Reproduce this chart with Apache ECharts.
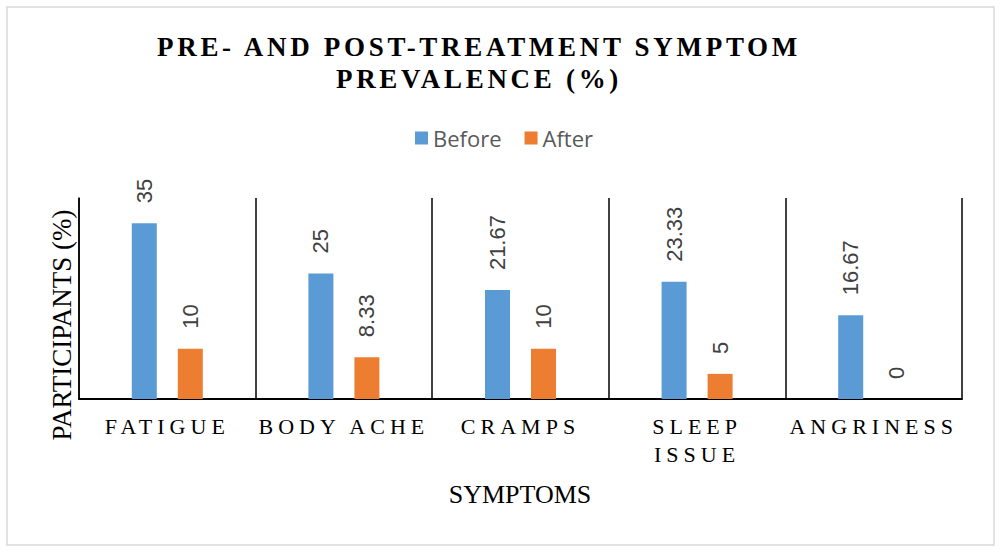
<!DOCTYPE html>
<html lang="en">

<head>
  <meta charset="UTF-8">
  <title>Pre- and Post-Treatment Symptom Prevalence</title>
  <style>
    body { margin: 0; background: #fff; }
    /* spaced caps for the title and the category labels */
    #main text[style*="bold"] { letter-spacing: 3.7px; }
    #main text[style*="DejaVu Serif"] { letter-spacing: 5px; }
  </style>
</head>

<body>
  <div id="main" style="width: 1002px;height:553px;"></div>
  <script src="https://cdn.jsdelivr.net/npm/echarts@6/dist/echarts.min.js"></script>
  <script>
    const categories = ['FATIGUE', 'BODY ACHE', 'CRAMPS', 'SLEEP ISSUE', 'ANGRINESS'];
    const beforeValues = [35, 25, 21.67, 23.33, 16.67];
    const afterValues = [10, 8.33, 10, 5, 0];
    const seriesNames = ['Before', 'After'];
    const colors = ['#5B9BD5', '#ED7D31'];

    const myChart = echarts.init(document.getElementById('main'), null, { renderer: 'svg' });

    const barLabel = {
      show: true,
      position: 'top',
      rotate: 90,
      align: 'left',
      verticalAlign: 'middle',
      distance: 20,
      fontFamily: 'Liberation Sans',
      fontSize: 22,
      color: '#404040'
    };

    const option = {
      backgroundColor: '#fff',
      title: {
        text: 'PRE- AND POST-TREATMENT SYMPTOM\nPREVALENCE (%)',
        left: 474,
        top: 26,
        textAlign: 'center',
        textStyle: {
          fontFamily: 'Liberation Serif',
          fontWeight: 'bold',
          fontSize: 27,
          lineHeight: 32,
          color: '#000'
        }
      },
      legend: {
        data: seriesNames,
        left: 410,
        top: 122,
        icon: 'rect',
        itemWidth: 13,
        itemHeight: 13,
        itemGap: 23,
        textStyle: {
          fontFamily: 'Open Sans',
          fontSize: 22,
          color: '#595959'
        }
      },
      grid: {
        left: 79,
        right: 40,
        top: 198,
        bottom: 154
      },
      xAxis: {
        type: 'category',
        data: categories,
        axisTick: { show: false },
        axisLine: { lineStyle: { color: '#000', width: 2 } },
        splitLine: { show: true, lineStyle: { color: '#000', width: 1.5 } },
        axisLabel: {
          margin: 13,
          interval: 0,
          fontFamily: '"Liberation Serif", "DejaVu Serif"',
          fontSize: 22,
          lineHeight: 28,
          color: '#000',
          formatter: (v) => v.replace('SLEEP ', 'SLEEP\n')
        }
      },
      yAxis: {
        type: 'value',
        min: 0,
        max: 40,
        axisLabel: { show: false },
        axisTick: { show: false },
        splitLine: { show: false },
        axisLine: { show: true, lineStyle: { color: '#000', width: 1.5 } }
      },
      graphic: [{
        type: 'rect',
        shape: { x: 7, y: 7, width: 987, height: 538 },
        style: { fill: 'none', stroke: '#D9D9D9', lineWidth: 1.5 },
        silent: true
      }, {
        type: 'text',
        x: 62,
        y: 325,
        rotation: Math.PI / 2,
        style: {
          text: 'PARTICIPANTS (%)',
          fontFamily: 'Liberation Serif',
          fontSize: 27,
          fill: '#000',
          align: 'center',
          verticalAlign: 'middle'
        }
      }, {
        type: 'text',
        x: 520,
        y: 494,
        style: {
          text: 'SYMPTOMS',
          fontFamily: 'Liberation Serif',
          fontSize: 26,
          fill: '#000',
          align: 'center',
          verticalAlign: 'middle'
        }
      }],
      series: [{
        name: seriesNames[0],
        type: 'bar',
        data: beforeValues,
        barWidth: 25,
        barGap: '84%',
        itemStyle: { color: colors[0] },
        label: barLabel
      }, {
        name: seriesNames[1],
        type: 'bar',
        data: afterValues,
        barWidth: 25,
        barGap: '84%',
        itemStyle: { color: colors[1] },
        label: barLabel
      }]
    };

    myChart.setOption(option);
  </script>
</body>

</html>
